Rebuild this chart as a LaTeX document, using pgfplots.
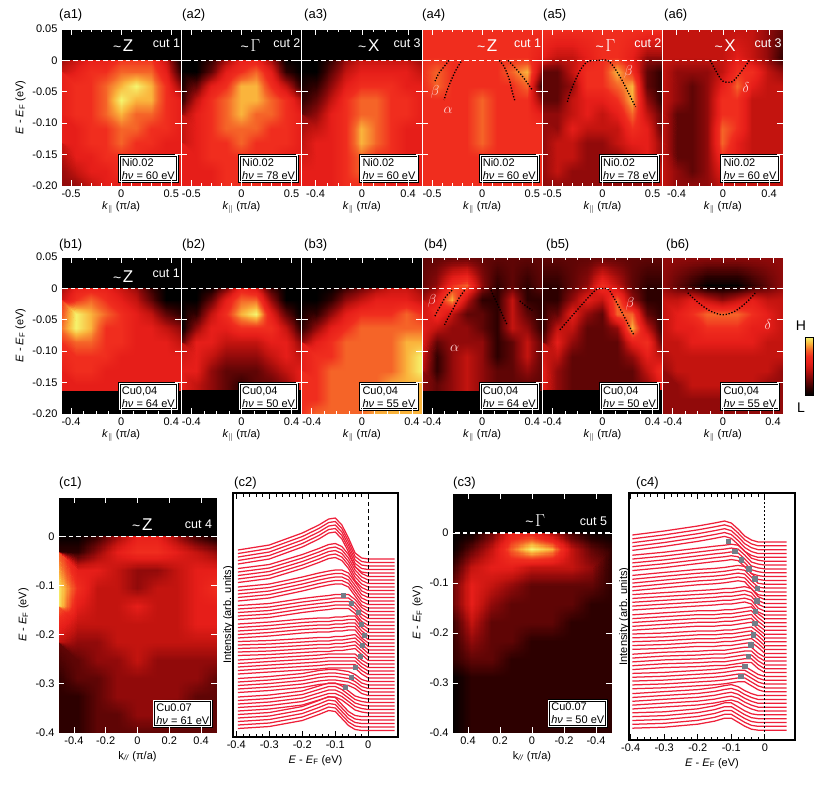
\documentclass[border=0pt]{standalone}
\usepackage{fontspec}
\setmainfont{Liberation Sans}
\usepackage{pgfplots}
\usepackage{pgfplotstable}
\usepgfplotslibrary{patchplots}
\pgfplotsset{compat=1.18}
\definecolor{edc}{RGB}{238,32,58}
\definecolor{dotg}{RGB}{115,125,135}
\definecolor{lbl}{RGB}{255,215,215}
\pgfplotsset{
 colormap={arpes}{rgb255=(0,0,0) rgb255=(45,0,0) rgb255=(95,5,5) rgb255=(145,10,10) rgb255=(195,20,15) rgb255=(230,30,25) rgb255=(240,45,30) rgb255=(245,100,40) rgb255=(250,180,60) rgb255=(245,245,110)},
 every tick label/.append style={font=\fontsize{11}{12}\selectfont},
 every axis label/.append style={font=\fontsize{11}{12}\selectfont},
 img/.style={scale only axis, anchor=north west, enlargelimits=false, axis on top,
   colormap name=arpes, point meta min=0, point meta max=9,
   tick align=inside, tick style={white, line width=0.7pt}, major tick length=6pt, minor tick length=3pt,
   axis line style={white, line width=0.8pt}, yticklabels={,,,,,,,}, minor y tick num=0},
 rowa/.style={img, width=120.3pt, height=157pt, ymin=-0.2, ymax=0.05, ytick={-0.2,-0.15,-0.1,-0.05,0,0.05},
   xlabel={\textit{k}\textsubscript{$\|$} (π/a)}, xlabel style={yshift=3pt}},
 wide/.style={xmin=-0.6, xmax=0.6, xtick={-0.5,0,0.5}, xticklabels={-0.5,0,0.5}, minor x tick num=4},
 narrow/.style={xmin=-0.52, xmax=0.52, xtick={-0.4,0,0.4}, xticklabels={-0.4,0,0.4}, minor x tick num=3},
 rowbx/.style={xmin=-0.48, xmax=0.48, xtick={-0.4,0,0.4}, xticklabels={-0.4,0,0.4}, minor x tick num=3},
 heat/.style={surf, shader=interp, patch type=bilinear, mesh/cols=9, point meta=explicit, forget plot},
 efblack/.style={draw=none, fill=black, forget plot},
 efline/.style={white, line width=1.1pt, dash pattern=on 4.5pt off 3pt, forget plot},
 disp/.style={black, line width=1.3pt, dash pattern=on 1.3pt off 1.7pt, smooth, forget plot},
 edcline/.style={edc, line width=1.25pt, forget plot},
}
\tikzset{
 ibox/.style={anchor=south east, fill=white, draw=black, double=white, double distance=0.9pt, line width=0.9pt,
   align=left, inner sep=2.5pt, font=\fontsize{11}{13}\selectfont, text=black},
 cutsym/.style={text=white, inner sep=0pt},
 cutlbl/.style={text=white, anchor=east, font=\fontsize{12.5}{13}\selectfont, inner sep=0pt},
 greek/.style={text=lbl, font=\fontsize{15}{15}\selectfont, inner sep=0pt},
 plbl/.style={anchor=west, font=\fontsize{13}{13}\selectfont, inner sep=0pt},
}
\newcommand\tsym[1]{{\fontsize{14}{14}\selectfont\textasciitilde}\,{\fontsize{17}{17}\selectfont #1}}
\newcommand\infobox[2]{\node[ibox] at (rel axis cs:0.97,0.025) {#1\\\textit{hν} = #2 eV};}
\def\yab{ifthenelse(\coordindex<9,0.05,0.004-(floor(\coordindex/9)-1)*0.02267)}
\def\yc{ifthenelse(\coordindex<9,0.08,0.004-(floor(\coordindex/9)-1)*0.036727)}
\newcommand\heat[3]{\addplot[heat] table[header=false,row sep=\\,meta index=0,x expr={#1+mod(\coordindex,9)*#2},y expr={#3}]}
\newcommand\Elabel{\textit{E} - \textit{E}\textsubscript{F} (eV)}

\pgfplotstableread{
x s0 s1 s2 s3 s4 s5 s6 s7 s8 s9
-0.395 9 8 7 6 5 5 4 3 2 2
-0.30 14 12 10 8 7 6 6 5 4 4
-0.20 26 22 17 13 10 8 8 8 8 10
-0.15 34 28 21 15 11 9 9 11 13 16
-0.12 40 32 23 16 11 9 10 12 16 20
-0.10 41 33 24 17 12 10 10 12 16 19
-0.08 34 30 24 17 12 10 10 11 13 12
-0.06 21 22 21 17 13 11 10 10 8 5
-0.04 6 10 12 12 13 12 10 7 3 1
-0.02 1 3 3 4 5 6 4 2 1 0
0.00 0 0 0 0 0 0 0 0 0 0
0.08 0 0 0 0 0 0 0 0 0 0
}\edcA
\pgfplotstableread{
x s0 s1 s2 s3 s4 s5 s6 s7 s8 s9
-0.395 7 6 5 5 4 4 3 3 2 2
-0.30 11 9 8 7 6 5 5 4 4 3
-0.20 16 13 11 9 8 7 6 6 6 6
-0.15 19 15 12 10 8 7 7 7 8 9
-0.12 21 16 13 11 9 8 7 8 10 12
-0.10 19 17 14 11 9 8 8 9 11 12
-0.08 13 16 15 12 10 9 9 10 9 8
-0.06 6 10 14 13 11 10 10 10 5 4
-0.04 2 3 7 11 12 11 10 6 2 1
-0.02 0 1 1 3 5 6 4 2 0 0
0.00 0 0 0 0 0 0 0 0 0 0
0.065 0 0 0 0 0 0 0 0 0 0
}\edcB

\begin{document}
\begin{tikzpicture}
\useasboundingbox (0,0) rectangle (818pt,-785pt);

% ---------------- row a ----------------
\begin{axis}[rowa, wide, at={(61pt,-29pt)}, yticklabels={-0.20,-0.15,-0.10,-0.05,0,0.05}, ylabel={\Elabel}]
\heat{-0.6}{0.15}{\yab}{0\\0\\0\\0\\0\\0\\0\\0\\0\\
3\\4\\5\\5\\6\\6\\6\\4\\0\\
4\\5\\6\\6\\7\\7\\7\\5\\1\\
5\\6\\6\\7\\8\\9\\8\\6\\3\\
5\\6\\6\\7\\9\\8\\8\\6\\5\\
5\\6\\6\\7\\8\\7\\7\\6\\5\\
5\\5\\6\\6\\7\\7\\6\\6\\5\\
5\\5\\6\\6\\7\\6\\6\\5\\5\\
4\\5\\5\\6\\6\\6\\5\\5\\5\\
3\\4\\5\\5\\6\\5\\5\\5\\5\\
3\\3\\4\\5\\5\\5\\5\\5\\5\\};
\addplot[efblack] coordinates {(-1,0) (1,0) (1,0.1) (-1,0.1)};
\addplot[efline] coordinates {(-1,0) (1,0)};
\node[cutsym] at (axis cs:0.02,0.024) {\tsym{Z}};
\node[cutlbl] at (axis cs:0.59,0.027) {cut 1};
\infobox{Ni0.02}{60}
\end{axis}

\begin{axis}[rowa, wide, at={(181.3pt,-29pt)}]
\heat{-0.6}{0.15}{\yab}{0\\0\\0\\0\\0\\0\\0\\0\\0\\
0\\0\\1\\3\\5\\5\\3\\0\\0\\
0\\0\\2\\5\\6\\7\\5\\1\\0\\
0\\2\\5\\6\\8\\8\\6\\4\\1\\
1\\4\\6\\7\\8\\8\\7\\6\\4\\
3\\5\\6\\7\\8\\7\\7\\6\\5\\
4\\5\\6\\7\\7\\7\\6\\6\\5\\
4\\5\\6\\6\\7\\6\\6\\6\\5\\
5\\5\\6\\6\\6\\6\\6\\5\\5\\
5\\5\\5\\6\\6\\6\\5\\5\\5\\
5\\5\\5\\6\\6\\6\\5\\5\\5\\};
\addplot[efblack] coordinates {(-1,0) (1,0) (1,0.1) (-1,0.1)};
\addplot[efline] coordinates {(-1,0) (1,0)};
\node[cutsym] at (axis cs:0.09,0.024) {\tsym{$\Gamma$}};
\node[cutlbl] at (axis cs:0.59,0.027) {cut 2};
\infobox{Ni0.02}{78}
\end{axis}

\begin{axis}[rowa, narrow, at={(301.7pt,-29pt)}]
\heat{-0.52}{0.13}{\yab}{0\\0\\0\\0\\0\\0\\0\\0\\0\\
0\\0\\1\\3\\4\\4\\4\\4\\3\\
0\\0\\2\\4\\5\\5\\5\\5\\4\\
0\\1\\3\\5\\6\\6\\6\\5\\5\\
1\\2\\4\\6\\7\\7\\6\\6\\5\\
2\\3\\5\\6\\7\\7\\6\\6\\5\\
3\\4\\5\\6\\8\\7\\6\\5\\5\\
4\\5\\5\\6\\8\\7\\6\\5\\5\\
4\\5\\5\\6\\7\\6\\6\\5\\5\\
5\\5\\5\\6\\7\\6\\5\\5\\5\\
5\\5\\5\\6\\6\\6\\5\\5\\5\\};
\addplot[efblack] coordinates {(-1,0) (1,0) (1,0.1) (-1,0.1)};
\addplot[efline] coordinates {(-1,0) (1,0)};
\node[cutsym] at (axis cs:0.06,0.024) {\tsym{X}};
\node[cutlbl] at (axis cs:0.51,0.027) {cut 3};
\infobox{Ni0.02}{60}
\end{axis}

\begin{axis}[rowa, wide, at={(422pt,-29pt)}]
\heat{-0.6}{0.15}{\yab}{6\\6\\6\\6\\6\\6\\6\\6\\6\\
6\\6\\6\\6\\6\\6\\6\\6\\5\\
6\\7\\6\\6\\6\\6\\7\\8\\3\\
6\\7\\6\\6\\6\\6\\6\\7\\1\\
6\\6\\6\\6\\7\\6\\6\\6\\3\\
6\\6\\6\\6\\7\\6\\6\\6\\5\\
6\\6\\6\\6\\7\\6\\6\\6\\6\\
6\\6\\6\\6\\7\\6\\6\\6\\6\\
6\\6\\6\\6\\6\\6\\6\\6\\6\\
6\\6\\6\\6\\6\\6\\6\\6\\6\\
6\\6\\6\\6\\6\\6\\6\\6\\6\\};
\addplot[efline] coordinates {(-1,0) (1,0)};
\addplot[disp] coordinates {(-0.33,0) (-0.38,-0.01) (-0.43,-0.02) (-0.47,-0.033)};
\addplot[disp] coordinates {(-0.21,-0.002) (-0.26,-0.015) (-0.31,-0.032) (-0.35,-0.048) (-0.38,-0.063)};
\addplot[disp] coordinates {(0.17,0) (0.22,-0.01) (0.27,-0.03) (0.30,-0.05) (0.33,-0.066)};
\addplot[disp] coordinates {(0.26,0) (0.33,-0.012) (0.40,-0.025) (0.46,-0.038) (0.5,-0.047)};
\node[cutsym] at (axis cs:0.05,0.024) {\tsym{Z}};
\node[cutlbl] at (axis cs:0.59,0.027) {cut 1};
\node[greek] at (axis cs:-0.47,-0.05) {$\beta$};
\node[greek] at (axis cs:-0.34,-0.079) {$\alpha$};
\infobox{Ni0.02}{60}
\end{axis}

\begin{axis}[rowa, wide, at={(542.3pt,-29pt)}]
\heat{-0.6}{0.15}{\yab}{6\\6\\6\\6\\6\\6\\6\\6\\6\\
5\\4\\4\\5\\6\\6\\5\\3\\3\\
2\\2\\4\\6\\6\\8\\6\\2\\1\\
2\\2\\3\\6\\6\\7\\8\\2\\1\\
2\\2\\4\\5\\5\\6\\8\\3\\1\\
3\\3\\4\\5\\4\\5\\7\\4\\2\\
3\\3\\5\\4\\4\\4\\6\\5\\2\\
3\\4\\4\\3\\3\\4\\5\\5\\3\\
3\\4\\4\\3\\3\\3\\4\\5\\3\\
3\\4\\3\\3\\3\\3\\3\\4\\4\\
3\\3\\3\\3\\3\\3\\3\\3\\4\\};
\addplot[efline] coordinates {(-1,0) (1,0)};
\addplot[disp] coordinates {(-0.35,-0.066) (-0.32,-0.05) (-0.28,-0.035) (-0.22,-0.015) (-0.15,-0.002) (-0.05,0) (0.05,0) (0.12,-0.012) (0.2,-0.033) (0.27,-0.055) (0.33,-0.074)};
\node[cutsym] at (axis cs:0.03,0.024) {\tsym{$\Gamma$}};
\node[cutlbl] at (axis cs:0.59,0.027) {cut 2};
\node[greek] at (axis cs:0.26,-0.018) {$\beta$};
\infobox{Ni0.02}{78}
\end{axis}

\begin{axis}[rowa, narrow, at={(662.7pt,-29pt)}]
\heat{-0.52}{0.13}{\yab}{4\\4\\4\\4\\4\\4\\4\\3\\2\\
4\\4\\4\\4\\4\\5\\4\\3\\1\\
4\\3\\3\\3\\4\\6\\6\\4\\3\\
4\\3\\2\\3\\5\\7\\5\\4\\4\\
4\\3\\2\\3\\6\\6\\4\\4\\4\\
4\\2\\2\\3\\6\\6\\4\\4\\4\\
4\\2\\2\\3\\7\\6\\4\\4\\4\\
4\\2\\2\\3\\7\\5\\4\\4\\4\\
4\\2\\2\\3\\6\\5\\4\\4\\4\\
4\\3\\2\\3\\5\\4\\4\\4\\4\\
4\\3\\3\\3\\4\\4\\4\\4\\4\\};
\addplot[efline] coordinates {(-1,0) (1,0)};
\addplot[disp] coordinates {(-0.11,0) (-0.05,-0.02) (0.0,-0.033) (0.08,-0.034) (0.15,-0.02) (0.23,0)};
\node[cutsym] at (axis cs:0.02,0.024) {\tsym{X}};
\node[cutlbl] at (axis cs:0.51,0.027) {cut 3};
\node[greek] at (axis cs:0.2,-0.043) {$\delta$};
\infobox{Ni0.02}{60}
\end{axis}

% ---------------- row b ----------------
\begin{axis}[rowa, rowbx, at={(61pt,-257pt)}, yticklabels={-0.20,-0.15,-0.10,-0.05,0,0.05}, ylabel={\Elabel}]
\heat{-0.48}{0.12}{\yab}{0\\0\\0\\0\\0\\0\\0\\0\\0\\
3\\5\\5\\5\\4\\3\\1\\0\\0\\
4\\6\\7\\6\\5\\4\\2\\0\\0\\
6\\9\\8\\7\\6\\5\\4\\2\\1\\
7\\9\\8\\6\\6\\5\\5\\4\\3\\
6\\7\\7\\6\\6\\5\\5\\5\\4\\
6\\6\\6\\6\\5\\5\\5\\5\\5\\
5\\6\\6\\5\\5\\5\\5\\5\\5\\
5\\5\\5\\5\\5\\5\\5\\5\\5\\
5\\5\\5\\5\\5\\5\\5\\5\\5\\
5\\5\\5\\5\\5\\5\\5\\5\\5\\};
\addplot[efblack] coordinates {(-1,0) (1,0) (1,0.1) (-1,0.1)};
\addplot[efblack] coordinates {(-1,-0.164) (1,-0.164) (1,-0.3) (-1,-0.3)};
\addplot[efline] coordinates {(-1,0) (1,0)};
\node[cutsym] at (axis cs:0.016,0.018) {\tsym{Z}};
\node[cutlbl] at (axis cs:0.47,0.024) {cut 1};
\infobox{Cu0,04}{64}
\end{axis}

\begin{axis}[rowa, rowbx, at={(181.3pt,-257pt)}]
\heat{-0.48}{0.12}{\yab}{0\\0\\0\\0\\0\\0\\0\\0\\0\\
0\\0\\0\\2\\5\\4\\1\\0\\0\\
0\\0\\2\\5\\7\\7\\3\\0\\0\\
0\\1\\4\\6\\8\\9\\5\\2\\0\\
0\\3\\5\\5\\6\\6\\6\\4\\1\\
2\\5\\5\\4\\4\\4\\5\\5\\3\\
4\\5\\4\\3\\3\\3\\4\\5\\4\\
5\\5\\3\\2\\2\\2\\3\\4\\5\\
5\\4\\3\\2\\1\\2\\2\\3\\5\\
5\\4\\3\\2\\1\\2\\2\\3\\5\\
5\\4\\3\\2\\1\\2\\2\\3\\5\\};
\addplot[efblack] coordinates {(-1,0) (1,0) (1,0.1) (-1,0.1)};
\addplot[efblack] coordinates {(-1,-0.162) (1,-0.162) (1,-0.3) (-1,-0.3)};
\addplot[efline] coordinates {(-1,0) (1,0)};
\infobox{Cu0,04}{50}
\end{axis}

\begin{axis}[rowa, rowbx, at={(301.7pt,-257pt)}]
\heat{-0.48}{0.12}{\yab}{0\\0\\0\\0\\0\\0\\0\\0\\0\\
0\\0\\0\\1\\2\\3\\4\\4\\3\\
0\\0\\1\\3\\4\\5\\5\\5\\4\\
0\\1\\3\\5\\6\\6\\6\\7\\6\\
1\\3\\5\\6\\7\\7\\7\\7\\7\\
3\\5\\6\\7\\7\\7\\7\\8\\8\\
5\\6\\6\\7\\7\\7\\7\\8\\9\\
5\\6\\7\\7\\7\\7\\7\\8\\9\\
6\\6\\7\\7\\7\\7\\8\\8\\8\\
6\\6\\7\\7\\7\\7\\8\\8\\8\\
6\\7\\7\\7\\7\\8\\8\\8\\8\\};
\addplot[efblack] coordinates {(-1,0) (1,0) (1,0.1) (-1,0.1)};
\addplot[efline] coordinates {(-1,0) (1,0)};
\infobox{Cu0,04}{55}
\end{axis}

\begin{axis}[rowa, rowbx, at={(422pt,-257pt)}]
\heat{-0.48}{0.12}{\yab}{2\\2\\2\\2\\2\\2\\2\\2\\2\\
2\\3\\6\\7\\3\\1\\2\\1\\2\\
3\\5\\8\\4\\1\\1\\4\\1\\1\\
4\\6\\4\\2\\2\\1\\4\\2\\1\\
5\\4\\3\\3\\2\\1\\4\\3\\1\\
5\\2\\3\\3\\3\\1\\2\\4\\2\\
5\\1\\3\\4\\3\\1\\2\\4\\2\\
4\\1\\3\\4\\3\\2\\2\\3\\2\\
3\\2\\3\\4\\3\\2\\2\\2\\2\\
3\\2\\3\\4\\3\\2\\2\\2\\2\\
3\\2\\3\\4\\3\\2\\2\\2\\2\\};
\addplot[efblack] coordinates {(-1,-0.164) (1,-0.164) (1,-0.3) (-1,-0.3)};
\addplot[efline] coordinates {(-1,0) (1,0)};
\addplot[disp] coordinates {(-0.24,-0.003) (-0.29,-0.013) (-0.33,-0.027) (-0.36,-0.037) (-0.38,-0.046)};
\addplot[disp] coordinates {(-0.14,-0.003) (-0.19,-0.017) (-0.23,-0.032) (-0.27,-0.046) (-0.30,-0.058)};
\addplot[disp] coordinates {(0.07,-0.003) (0.11,-0.02) (0.15,-0.037) (0.18,-0.05) (0.20,-0.058)};
\addplot[disp] coordinates {(0.30,-0.02) (0.35,-0.028) (0.40,-0.035)};
\node[greek] at (axis cs:-0.40,-0.02) {$\beta$};
\node[greek] at (axis cs:-0.22,-0.095) {$\alpha$};
\infobox{Cu0,04}{64}
\end{axis}

\begin{axis}[rowa, rowbx, at={(542.3pt,-257pt)}]
\heat{-0.48}{0.12}{\yab}{2\\2\\2\\2\\2\\2\\2\\2\\2\\
1\\1\\2\\3\\6\\4\\2\\1\\1\\
1\\1\\3\\5\\4\\7\\3\\1\\1\\
1\\2\\5\\3\\2\\7\\7\\2\\1\\
1\\4\\4\\2\\2\\3\\8\\4\\1\\
2\\5\\3\\2\\2\\2\\5\\6\\2\\
4\\4\\2\\2\\2\\2\\3\\5\\4\\
5\\3\\2\\2\\2\\2\\2\\4\\6\\
5\\3\\2\\2\\2\\2\\2\\3\\5\\
5\\3\\2\\2\\2\\2\\2\\3\\5\\
5\\3\\2\\2\\2\\2\\2\\3\\5\\};
\addplot[efblack] coordinates {(-1,-0.162) (1,-0.162) (1,-0.3) (-1,-0.3)};
\addplot[efline] coordinates {(-1,0) (1,0)};
\addplot[disp] coordinates {(-0.34,-0.066) (-0.27,-0.05) (-0.2,-0.034) (-0.12,-0.016) (-0.05,-0.002) (0,0) (0.05,-0.002) (0.1,-0.018) (0.15,-0.036) (0.2,-0.055) (0.25,-0.074)};
\node[greek] at (axis cs:0.22,-0.025) {$\beta$};
\infobox{Cu0,04}{50}
\end{axis}

\begin{axis}[rowa, rowbx, at={(662.7pt,-257pt)}, colorbar,
  colorbar style={at={(parent axis.east)}, anchor=north west, xshift=14pt, yshift=-1.5pt,
  scale only axis, width=8pt, height=58pt, ytick=\empty, xtick=\empty, axis line style={black, line width=0.4pt}}]
\heat{-0.48}{0.12}{\yab}{3\\3\\3\\3\\3\\3\\3\\3\\3\\
3\\2\\1\\0\\0\\0\\1\\2\\3\\
4\\4\\5\\4\\3\\4\\5\\4\\4\\
4\\5\\6\\7\\7\\7\\6\\5\\4\\
4\\5\\5\\6\\6\\6\\5\\5\\4\\
4\\4\\5\\5\\5\\5\\5\\4\\4\\
4\\4\\4\\4\\4\\4\\4\\4\\4\\
3\\4\\4\\4\\4\\4\\4\\4\\3\\
3\\3\\4\\4\\4\\4\\4\\3\\3\\
3\\3\\3\\3\\3\\3\\3\\3\\3\\
3\\3\\3\\3\\3\\3\\3\\3\\3\\};
\addplot[efline] coordinates {(-1,0) (1,0)};
\addplot[disp] coordinates {(-0.28,-0.007) (-0.2,-0.022) (-0.1,-0.036) (0,-0.042) (0.1,-0.036) (0.2,-0.02) (0.26,-0.007)};
\node[greek] at (axis cs:0.36,-0.058) {$\delta$};
\infobox{Cu0,04}{55}
\end{axis}

% ---------------- row c ----------------
\begin{axis}[img, at={(58pt,-497pt)}, width=159pt, height=236pt, xmin=-0.5, xmax=0.5, ymin=-0.4, ymax=0.08,
  xtick={-0.4,-0.2,0,0.2,0.4}, xticklabels={-0.4,-0.2,0,0.2,0.4}, minor x tick num=0,
  ytick={-0.4,-0.3,-0.2,-0.1,0}, yticklabels={-0.4,-0.3,-0.2,-0.1,0},
  xlabel={k\textsubscript{\textit{//}} (π/a)}, ylabel={\Elabel}]
\heat{-0.5}{0.125}{\yc}{0\\0\\0\\0\\0\\0\\0\\0\\0\\
0\\0\\1\\3\\5\\5\\3\\1\\0\\
1\\1\\3\\5\\6\\6\\5\\4\\3\\
7\\5\\5\\4\\3\\3\\4\\5\\5\\
9\\6\\4\\4\\3\\4\\4\\5\\6\\
9\\5\\4\\4\\5\\4\\4\\5\\5\\
7\\4\\4\\4\\4\\4\\4\\5\\5\\
4\\3\\3\\4\\4\\4\\4\\4\\4\\
2\\2\\3\\3\\4\\3\\3\\3\\3\\
1\\2\\2\\3\\3\\3\\3\\3\\2\\
1\\1\\2\\3\\3\\3\\3\\2\\2\\
1\\1\\2\\2\\3\\3\\2\\2\\2\\
1\\1\\2\\2\\2\\2\\2\\2\\2\\};
\addplot[efblack] coordinates {(-1,0) (1,0) (1,0.2) (-1,0.2)};
\addplot[efline] coordinates {(-1,0) (1,0)};
\node[cutsym] at (axis cs:0.03,0.024) {\tsym{Z}};
\node[cutlbl] at (axis cs:0.47,0.024) {cut 4};
\infobox{Cu0.07}{61}
\end{axis}

\begin{axis}[scale only axis, anchor=north west, at={(233pt,-493pt)}, width=165pt, height=244pt,
  xmin=-0.41, xmax=0.09, ymin=0, ymax=244, xtick={-0.4,-0.3,-0.2,-0.1,0}, xticklabels={-0.4,-0.3,-0.2,-0.1,0},
  minor x tick num=4, ytick=\empty, tick align=inside, major tick length=6pt, minor tick length=3.5pt,
  axis line style={line width=1.2pt}, tick style={black, line width=0.8pt},
  xlabel={\Elabel}, ylabel={Intensity (arb. units)}, ylabel style={yshift=-4pt}]
\foreach \i in {0,...,49}{%
  \pgfmathtruncatemacro\j{floor(\i/5)}%
  \pgfmathsetmacro\off{178-3.5*\i}%
  \edef\temp{\noexpand\addplot[edcline] table[x=x, y expr={\noexpand\thisrow{s\j}+\off}] {\noexpand\edcA};}%
  \temp
}
\addplot[black, line width=1.1pt, dash pattern=on 4pt off 3pt] coordinates {(0,0) (0,244)};
\addplot[only marks, mark=square*, mark size=2.1pt, dotg] coordinates {(-0.076,142) (-0.052,134) (-0.030,125) (-0.021,113) (-0.012,102) (-0.018,92) (-0.024,81) (-0.039,70) (-0.052,60) (-0.070,50)};
\end{axis}

\begin{axis}[img, at={(452pt,-493pt)}, width=160pt, height=240pt, x dir=reverse, xmin=-0.5, xmax=0.5, ymin=-0.4, ymax=0.08,
  xtick={-0.4,-0.2,0,0.2,0.4}, xticklabels={-0.4,-0.2,0,0.2,0.4}, minor x tick num=0,
  ytick={-0.4,-0.3,-0.2,-0.1,0}, yticklabels={-0.4,-0.3,-0.2,-0.1,0},
  xlabel={k\textsubscript{\textit{//}} (π/a)}, ylabel={\Elabel}]
\heat{-0.5}{0.125}{\yc}{0\\0\\0\\0\\0\\0\\0\\0\\0\\
0\\0\\1\\3\\5\\5\\2\\0\\0\\
1\\2\\4\\8\\9\\7\\4\\2\\0\\
1\\3\\4\\4\\4\\5\\5\\4\\1\\
1\\2\\2\\2\\2\\3\\4\\5\\2\\
1\\1\\2\\2\\2\\2\\3\\5\\2\\
1\\1\\1\\2\\2\\2\\2\\4\\1\\
1\\1\\1\\1\\1\\2\\2\\3\\1\\
1\\1\\1\\1\\1\\1\\2\\2\\1\\
1\\1\\1\\1\\1\\1\\1\\1\\0\\
1\\1\\1\\1\\1\\1\\1\\1\\0\\
1\\1\\1\\1\\1\\1\\1\\1\\0\\
1\\1\\1\\1\\1\\1\\1\\1\\0\\};
\addplot[efblack] coordinates {(-1,0) (1,0) (1,0.2) (-1,0.2)};
\addplot[efline] coordinates {(-1,0) (1,0)};
\node[cutsym] at (axis cs:-0.02,0.024) {\tsym{$\Gamma$}};
\node[cutlbl] at (axis cs:-0.47,0.024) {cut 5};
\infobox{Cu0.07}{50}
\end{axis}

\begin{axis}[scale only axis, anchor=north west, at={(629pt,-493pt)}, width=166pt, height=247pt,
  xmin=-0.405, xmax=0.09, ymin=0, ymax=247, xtick={-0.4,-0.3,-0.2,-0.1,0}, xticklabels={-0.4,-0.3,-0.2,-0.1,0},
  minor x tick num=4, ytick=\empty, tick align=inside, major tick length=6pt, minor tick length=3.5pt,
  axis line style={line width=1.2pt}, tick style={black, line width=0.8pt},
  xlabel={\Elabel}, ylabel={Intensity (arb. units)}, ylabel style={yshift=-4pt}]
\foreach \i in {0,...,49}{%
  \pgfmathtruncatemacro\j{floor(\i/5)}%
  \pgfmathsetmacro\off{198-3.84*\i}%
  \edef\temp{\noexpand\addplot[edcline] table[x=x, y expr={\noexpand\thisrow{s\j}+\off}] {\noexpand\edcB};}%
  \temp
}
\addplot[black, line width=1.1pt, dash pattern=on 2pt off 2pt] coordinates {(0,0) (0,247)};
\addplot[only marks, mark=square*, mark size=2.1pt, dotg] coordinates {(-0.110,198.7) (-0.090,188.7) (-0.070,180.3) (-0.048,171.3) (-0.030,161.3) (-0.022,152) (-0.024,139.3) (-0.028,128.7) (-0.030,117) (-0.034,105.3) (-0.042,95.3) (-0.050,83.7) (-0.060,73.7) (-0.072,63.7)};
\end{axis}

% panel labels
\node[plbl] at (59pt,-15pt) {(a1)};
\node[plbl] at (182pt,-15pt) {(a2)};
\node[plbl] at (304pt,-15pt) {(a3)};
\node[plbl] at (422pt,-15pt) {(a4)};
\node[plbl] at (543pt,-15pt) {(a5)};
\node[plbl] at (664pt,-15pt) {(a6)};
\node[plbl] at (59pt,-245pt) {(b1)};
\node[plbl] at (182pt,-245pt) {(b2)};
\node[plbl] at (304pt,-245pt) {(b3)};
\node[plbl] at (424pt,-245pt) {(b4)};
\node[plbl] at (546pt,-245pt) {(b5)};
\node[plbl] at (666pt,-245pt) {(b6)};
\node[plbl] at (59pt,-483pt) {(c1)};
\node[plbl] at (234pt,-483pt) {(c2)};
\node[plbl] at (453pt,-483pt) {(c3)};
\node[plbl] at (636pt,-483pt) {(c4)};
\node[font=\fontsize{14}{14}\selectfont] at (801pt,-326pt) {H};
\node[font=\fontsize{14}{14}\selectfont] at (801pt,-408pt) {L};
\end{tikzpicture}
\end{document}
